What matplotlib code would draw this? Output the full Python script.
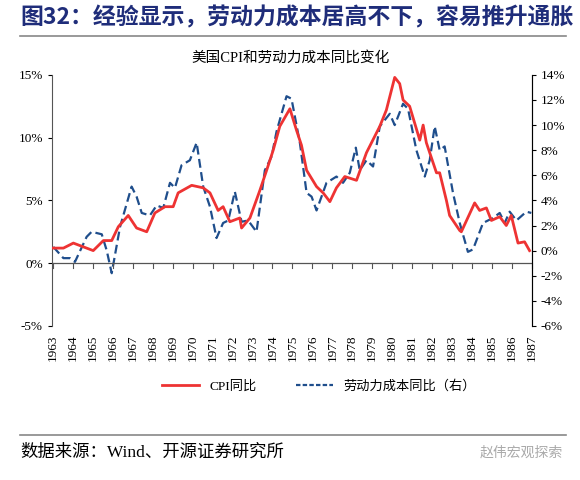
import matplotlib
matplotlib.use("Agg")
import matplotlib.pyplot as plt
from matplotlib.lines import Line2D

plt.rcParams['font.family'] = ['Liberation Serif', 'Noto Sans CJK SC', 'DejaVu Sans']

cpi_t = [1963.07,1963.64,1964.20,1964.76,1965.32,1965.89,1966.36,1966.73,1967.29,1967.76,1968.33,1968.79,1969.36,1969.82,1970.10,1970.86,1971.51,1971.89,1972.35,1972.63,1973.01,1973.57,1973.67,1974.14,1974.70,1975.08,1975.45,1975.82,1976.39,1976.76,1977.04,1977.33,1977.89,1978.26,1978.64,1979.01,1979.48,1980.14,1980.70,1981.45,1981.82,1982.29,1982.57,1982.76,1983.13,1983.70,1983.89,1984.07,1984.64,1984.82,1985.20,1985.38,1985.95,1986.04,1986.79,1987.07,1987.45,1987.73,1988.20,1988.57,1988.85,1989.23,1989.60,1989.88]
cpi_v = [1.2,1.2,1.6,1.3,1.0,1.8,1.8,2.9,3.8,2.8,2.5,4.0,4.5,4.5,5.6,6.2,6.0,5.6,4.2,4.5,3.3,3.6,2.8,3.6,5.8,7.4,9.0,10.9,12.3,10.6,9.4,7.4,6.1,5.6,4.9,6.0,6.9,6.6,8.8,10.9,12.2,14.8,14.3,13.0,12.5,9.8,11.0,9.6,7.2,7.2,5.0,3.8,2.6,2.5,4.8,4.2,4.4,3.4,3.7,3.0,3.8,1.6,1.7,1.0]
lab_t = [1963.07,1963.64,1964.01,1964.29,1964.95,1965.23,1965.80,1966.08,1966.36,1966.83,1967.48,1967.76,1968.05,1968.51,1968.89,1969.26,1969.64,1969.92,1970.29,1970.76,1971.14,1971.51,1971.89,1972.26,1972.63,1972.92,1973.29,1973.67,1974.04,1974.51,1974.98,1975.36,1975.64,1976.20,1976.48,1976.95,1977.33,1977.61,1977.89,1978.45,1979.01,1979.38,1979.76,1980.10,1980.32,1980.70,1981.07,1981.45,1982.01,1982.29,1982.76,1983.04,1983.51,1983.98,1984.26,1984.54,1984.82,1985.10,1985.57,1985.95,1986.41,1986.70,1987.26,1987.82,1988.20,1988.48,1988.76,1989.14,1989.70,1989.98]
lab_v = [0.3,-0.6,-0.6,-0.9,1.1,1.5,1.3,0.0,-1.8,1.9,5.1,4.3,3.0,2.8,3.6,3.4,5.4,5.0,6.8,7.2,8.6,5.1,3.5,1.0,2.2,2.4,4.7,2.3,2.4,1.5,6.4,7.5,9.5,12.3,12.1,8.6,4.6,4.3,3.2,5.4,5.9,5.4,6.2,8.2,6.4,7.2,6.7,9.9,10.9,10.0,11.7,11.3,8.0,5.9,7.2,9.9,8.0,8.3,4.6,2.2,-0.1,0.1,2.2,2.6,3.0,2.2,3.1,2.4,3.1,3.0]
year_labels = [str(y) for y in range(1963, 1988)]

RED = '#ee3333'
BLUE = '#1f4e8c'
NAVY = '#1f2d7a'

fig = plt.figure(figsize=(5.8, 4.8), dpi=100)
fig.text(0.035, 0.962, '图32：经验显示，劳动力成本居高不下，容易推升通胀', fontsize=16.5,
         fontweight='bold', color=NAVY, family=['Noto Sans CJK SC'], va='center')
fig.add_artist(Line2D([0.035, 0.975], [0.925, 0.925], color='#888888', lw=1.2))
fig.text(0.5, 0.88, '美国CPI和劳动力成本同比变化', fontsize=10.5, ha='center', va='center')

ax = fig.add_axes([0.0897, 0.321, 0.827, 0.523])
ax2 = ax.twinx()
ax.plot(cpi_t, cpi_v, color=RED, lw=2, zorder=3)
ax2.plot(lab_t, lab_v, color=BLUE, lw=1.6, ls=(0, (4, 2)))
ax.set_zorder(2); ax.patch.set_visible(False)
ax.set_xlim(1963.0, 1990.0)
ax.set_ylim(-5, 15)
ax2.set_ylim(-6, 14)
ax.set_yticks([-5, 0, 5, 10, 15])
ax.set_yticklabels(['-5%', '0%', '5%', '10%', '15%'])
ax2.set_yticks(range(-6, 15, 2))
ax2.set_yticklabels([f'{v}%' for v in range(-6, 15, 2)])
for a in (ax, ax2):
    for s in ('top', 'bottom'):
        a.spines[s].set_visible(False)
    a.tick_params(axis='y', labelsize=9.5, length=3, width=0.8)
ax.spines['left'].set_color('#555555'); ax2.spines['right'].set_color('#555555')
ax2.spines['left'].set_visible(False)
ax.axhline(0, color='#555555', lw=0.9, zorder=1)
pos = [1963.06 + 1.1226 * i for i in range(len(year_labels))]
for t in pos:
    ax.plot([t, t], [0, -0.35], color='#555555', lw=0.8, clip_on=False)
ax.set_xticks([])
for t, lab in zip(pos, year_labels):
    ax.text(t, -5.7, lab, rotation=90, ha='center', va='top', fontsize=9.5)

h1 = Line2D([], [], color=RED, lw=2)
h2 = Line2D([], [], color=BLUE, lw=1.6, ls=(0, (2, 1)))
fig.legend([h1, h2], ['CPI同比', '劳动力成本同比（右）'], loc='center', bbox_to_anchor=(0.55, 0.195),
           ncol=2, frameon=False, fontsize=9.5, columnspacing=3, handlelength=2.8)

fig.add_artist(Line2D([0.035, 0.975], [0.094, 0.094], color='#888888', lw=1.2))
fig.text(0.035, 0.058, '数据来源：Wind、开源证券研究所', fontsize=12.5, va='center')
fig.text(0.97, 0.058, '赵伟宏观探索', fontsize=10, va='center', ha='right', color='#aaaaaa',
         family=['Noto Sans CJK SC'])
fig.savefig('out.png', dpi=100)
